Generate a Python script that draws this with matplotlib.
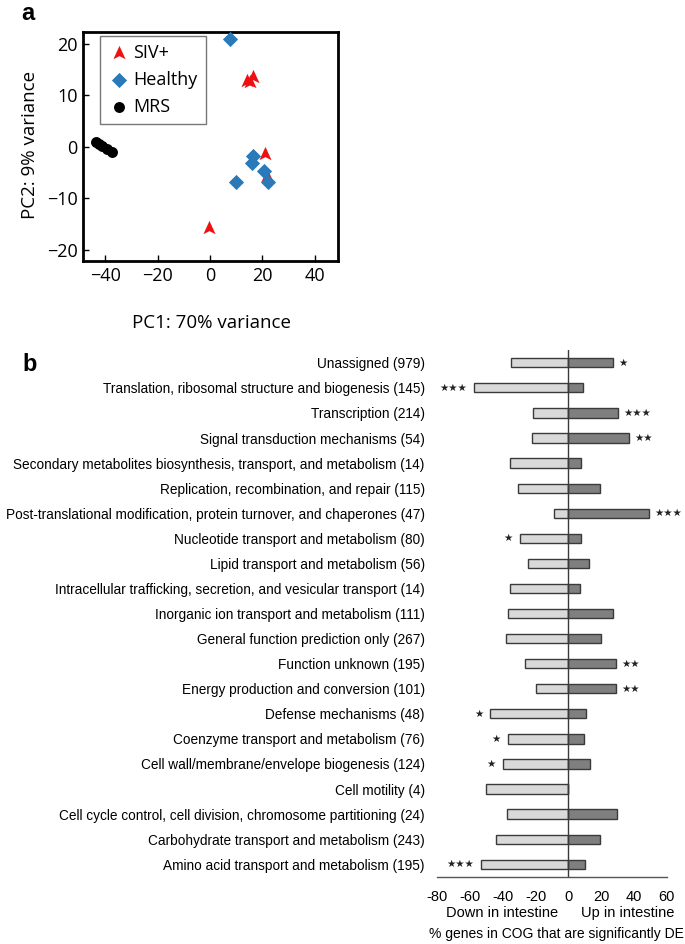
import matplotlib
matplotlib.use("Agg")
import matplotlib.pyplot as plt
from matplotlib.path import Path
import numpy as np

# ---------------- Panel a data ----------------
siv_x = [14.2, 15.3, 16.5, 21.0, 21.6, -0.4]
siv_y = [12.8, 12.6, 13.5, -1.4, -5.6, -15.7]
healthy_x = [7.6, 16.5, 15.9, 9.8, 20.7, 22.0]
healthy_y = [21.0, -1.7, -3.2, -6.9, -4.7, -6.9]
mrs_x = [-43.4, -42.3, -41.3, -39.4, -37.5]
mrs_y = [1.0, 0.6, 0.2, -0.4, -1.0]
pca_ticks = [-40, -20, 0, 20, 40]
pca_yticks = [-20, -10, 0, 10, 20]

# ---------------- Panel b data ----------------
categories = [
    "Unassigned (979)",
    "Translation, ribosomal structure and biogenesis (145)",
    "Transcription (214)",
    "Signal transduction mechanisms (54)",
    "Secondary metabolites biosynthesis, transport, and metabolism (14)",
    "Replication, recombination, and repair (115)",
    "Post-translational modification, protein turnover, and chaperones (47)",
    "Nucleotide transport and metabolism (80)",
    "Lipid transport and metabolism (56)",
    "Intracellular trafficking, secretion, and vesicular transport (14)",
    "Inorganic ion transport and metabolism (111)",
    "General function prediction only (267)",
    "Function unknown (195)",
    "Energy production and conversion (101)",
    "Defense mechanisms (48)",
    "Coenzyme transport and metabolism (76)",
    "Cell wall/membrane/envelope biogenesis (124)",
    "Cell motility (4)",
    "Cell cycle control, cell division, chromosome partitioning (24)",
    "Carbohydrate transport and metabolism (243)",
    "Amino acid transport and metabolism (195)",
]
down_vals = [-35.0, -57.6, -21.6, -22.0, -35.5, -31.0, -8.6, -29.7, -24.7, -35.5,
             -36.9, -38.3, -26.5, -19.8, -47.7, -36.9, -40.1, -50.1, -37.5, -44.2, -53.2]
up_vals = [27.0, 8.7, 30.1, 37.0, 7.5, 19.5, 49.2, 7.7, 12.8, 7.3,
           27.2, 19.7, 29.1, 29.1, 10.5, 9.5, 13.2, 0.0, 29.5, 19.5, 10.3]
down_sig = ["", "***", "", "", "", "", "", "*", "", "", "", "", "", "", "*", "*", "*", "", "", "", "***"]
up_sig = ["*", "", "***", "**", "", "", "***", "", "", "", "", "", "**", "**", "", "", "", "", "", "", ""]
bar_ticks = [-80, -60, -40, -20, 0, 20, 40, 60]

W, H = 685, 944
fig = plt.figure(figsize=(W / 100, H / 100), dpi=100)

def fx(px):
    return px / W

def fy(py):
    return 1 - py / H

# ---------------- Panel a ----------------
ax1 = fig.add_axes([fx(83), fy(261), fx(338) - fx(83), fy(32) - fy(261)])
arrow = Path([(0, 1), (-0.8, -0.75), (0, -0.35), (0.8, -0.75), (0, 1)],
             [Path.MOVETO, Path.LINETO, Path.LINETO, Path.LINETO, Path.CLOSEPOLY])
ax1.scatter(siv_x, siv_y, marker=arrow, s=120, color="#ee1111", label="SIV+", zorder=3, linewidths=0)
ax1.scatter(healthy_x, healthy_y, marker="D", s=60, color="#2a7ab9", label="Healthy", zorder=3, linewidths=0)
ax1.scatter(mrs_x, mrs_y, marker="o", s=62, color="black", label="MRS", zorder=3, linewidths=0)
ax1.set_xlim(-48.4, 48.8)
ax1.set_ylim(-22.2, 22.3)
ax1.set_xticks(pca_ticks)
ax1.set_yticks(pca_yticks)
tfont = "Open Sans"
for lab in ax1.get_xticklabels() + ax1.get_yticklabels():
    lab.set_fontfamily(tfont)
    lab.set_fontsize(13)
ax1.tick_params(direction="in", length=4, width=1, pad=4)
for s in ax1.spines.values():
    s.set_linewidth(2)
leg = ax1.legend(loc="upper left", bbox_to_anchor=(0.067, 0.983), borderaxespad=0,
                 frameon=True, fancybox=False, edgecolor="#555555",
                 prop={"family": tfont, "size": 13}, handletextpad=0.2,
                 handlelength=1.2, labelspacing=0.5, borderpad=0.45, scatterpoints=1)
leg.get_frame().set_linewidth(1)
fig.text(fx(211), fy(323), "PC1: 70% variance", ha="center", va="center",
         family=tfont, fontsize=13.5)
fig.text(fx(30), fy(145), "PC2: 9% variance", ha="center", va="center",
         rotation=90, family=tfont, fontsize=13.5)
fig.text(fx(28), fy(13), "a", ha="center", va="center", family="Liberation Sans",
         fontweight="bold", fontsize=17)

# ---------------- Panel b ----------------
n = len(categories)
ax2 = fig.add_axes([fx(437.3), fy(877.3), fx(666.7) - fx(437.3), fy(350) - fy(877.3)])
ypos = np.arange(n)
ax2.barh(ypos, down_vals, height=0.37, color="#d9d9d9", edgecolor="#3a3a3a", linewidth=1, zorder=2)
ax2.barh(ypos, up_vals, height=0.37, color="#7f7f7f", edgecolor="#3a3a3a", linewidth=1, zorder=2)
ax2.axvline(0, color="#3a3a3a", lw=1, zorder=3)
ax2.set_xlim(-80, 60)
ax2.set_ylim(20.52, -0.51)
ax2.set_yticks(ypos)
ax2.set_yticklabels(categories, family="Liberation Sans", fontsize=9.8)
ax2.set_xticks(bar_ticks)
ax2.set_xticklabels([str(t) for t in bar_ticks], family="Liberation Sans", fontsize=10.5)
ax2.tick_params(axis="both", length=0)
ax2.tick_params(axis="y", pad=9)
ax2.tick_params(axis="x", pad=9)
for side in ["top", "right", "left"]:
    ax2.spines[side].set_visible(False)
ax2.spines["bottom"].set_color("#555555")
ax2.spines["bottom"].set_linewidth(1)

for i in range(n):
    if down_sig[i]:
        ax2.annotate("\u2605" * len(down_sig[i]), xy=(down_vals[i], i), xytext=(-5, 0),
                     textcoords="offset points", ha="right", va="center",
                     family="DejaVu Sans", fontsize=7.5, color="#222222")
    if up_sig[i]:
        ax2.annotate("\u2605" * len(up_sig[i]), xy=(up_vals[i], i), xytext=(4, 0),
                     textcoords="offset points", ha="left", va="center",
                     family="DejaVu Sans", fontsize=7.5, color="#222222")

fig.text(fx(502), fy(913), "Down in intestine", ha="center", va="center",
         family="Liberation Sans", fontsize=10.5)
fig.text(fx(628), fy(913), "Up in intestine", ha="center", va="center",
         family="Liberation Sans", fontsize=10.5)
fig.text(fx(556), fy(934), "% genes in COG that are significantly DE", ha="center", va="center",
         family="Liberation Sans", fontsize=10)
fig.text(fx(30), fy(364), "b", ha="center", va="center", family="Liberation Sans",
         fontweight="bold", fontsize=17)

fig.savefig("out.png", dpi=100)
